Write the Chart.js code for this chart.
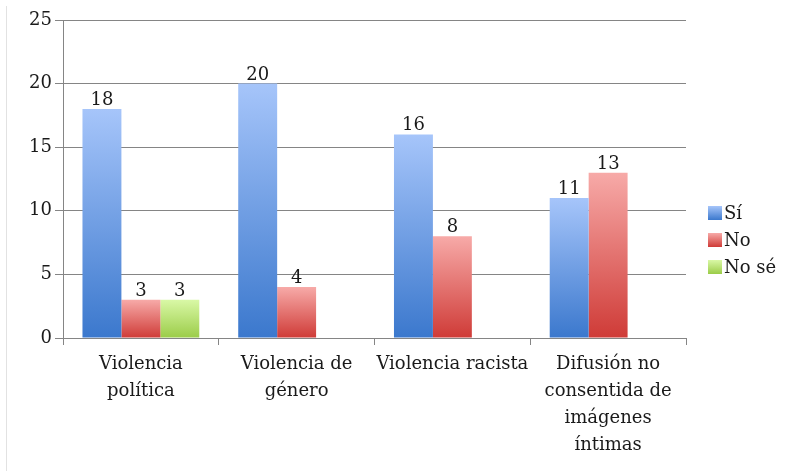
<!DOCTYPE html>
<html>
<head>
<meta charset="utf-8">
<script src="https://cdn.jsdelivr.net/npm/chart.js@4/dist/chart.umd.min.js"></script>
<style>
  html, body { margin: 0; padding: 0; background: #ffffff; }
  #wrap { width: 787px; height: 471px; position: relative; }
</style>
</head>
<body>
<div id="wrap"><canvas id="c" width="787" height="471"></canvas></div>
<script>
// Categories (multi-line axis labels)
const categories = [
  ['Violencia', 'política'],
  ['Violencia de', 'género'],
  ['Violencia racista'],
  ['Difusión no', 'consentida de', 'imágenes', 'íntimas']
];

// Series values
const siValues   = [18, 20, 16, 11];
const noValues   = [3, 4, 8, 13];
const noseValues = [3, null, null, null];

// Y-axis ticks
const yTicks = [0, 5, 10, 15, 20, 25];

const FONT = 'DejaVu Serif';
const TEXT = '#1a1a1a';

// Gradient stops per series: [top, bottom]
const palette = {
  'Sí':    ['#a6c5fa', '#3b78cd'],
  'No':    ['#f7aaa8', '#cf3b37'],
  'No sé': ['#d9f8a6', '#9bcc48']
};

// Each bar gets its own vertical gradient from its top down to the baseline
function barGradient(name) {
  return function (ctx) {
    const chart = ctx.chart;
    const y = chart.scales.y;
    const stops = palette[name];
    if (!y || !chart.chartArea || ctx.raw == null) return stops[1];
    const top = y.getPixelForValue(ctx.raw);
    const bottom = y.getPixelForValue(0);
    if (!isFinite(top) || !isFinite(bottom) || top === bottom) return stops[1];
    const g = chart.ctx.createLinearGradient(0, top, 0, bottom);
    g.addColorStop(0, stops[0]);
    g.addColorStop(1, stops[1]);
    return g;
  };
}

// Value labels drawn above every bar
const valueLabels = {
  id: 'valueLabels',
  afterDatasetsDraw(chart) {
    const c = chart.ctx;
    c.save();
    c.font = '18px "' + FONT + '"';
    c.fillStyle = TEXT;
    c.textAlign = 'center';
    c.textBaseline = 'alphabetic';
    chart.data.datasets.forEach((ds, i) => {
      const meta = chart.getDatasetMeta(i);
      meta.data.forEach((bar, j) => {
        const v = ds.data[j];
        if (v == null) return;
        c.fillText(String(v), bar.x, bar.y - 4);
      });
    });
    c.restore();
  }
};

// Legend at the right with gradient swatches
const sideLegend = {
  id: 'sideLegend',
  afterDraw(chart) {
    const c = chart.ctx;
    const x0 = 708, y0 = 213, step = 27, box = 14;
    c.save();
    c.font = '18px "' + FONT + '"';
    c.textBaseline = 'middle';
    c.textAlign = 'left';
    chart.data.datasets.forEach((ds, i) => {
      const cy = y0 + i * step;
      const stops = palette[ds.label];
      const g = c.createLinearGradient(0, cy - box / 2, 0, cy + box / 2);
      g.addColorStop(0, stops[0]);
      g.addColorStop(1, stops[1]);
      c.fillStyle = g;
      c.fillRect(x0, cy - box / 2, box, box);
      c.fillStyle = TEXT;
      c.fillText(ds.label, x0 + box + 2, cy + 1);
    });
    c.restore();
  }
};

// Thin frame line along the left edge
const leftEdge = {
  id: 'leftEdge',
  beforeDraw(chart) {
    const c = chart.ctx;
    c.save();
    c.strokeStyle = '#e2e2e2';
    c.lineWidth = 1;
    c.beginPath();
    c.moveTo(6.5, 6);
    c.lineTo(6.5, 471);
    c.stroke();
    c.restore();
  }
};

new Chart(document.getElementById('c'), {
  type: 'bar',
  data: {
    labels: categories,
    datasets: [
      { label: 'Sí',    data: siValues,   backgroundColor: barGradient('Sí') },
      { label: 'No',    data: noValues,   backgroundColor: barGradient('No') },
      { label: 'No sé', data: noseValues, backgroundColor: barGradient('No sé') }
    ]
  },
  options: {
    responsive: false,
    animation: false,
    devicePixelRatio: 1,
    layout: { padding: { top: 20, right: 101, left: 0, bottom: 0 } },
    datasets: {
      bar: { categoryPercentage: 0.75, barPercentage: 1.0, borderWidth: 0 }
    },
    plugins: {
      legend: { display: false },
      tooltip: { enabled: false }
    },
    scales: {
      x: {
        grid: {
          offset: true,
          drawOnChartArea: false,
          drawTicks: true,
          tickLength: 7,
          color: '#858585',
          lineWidth: 1
        },
        border: { display: true, color: '#858585', width: 1 },
        ticks: {
          color: TEXT,
          font: { family: FONT, size: 18, lineHeight: 1.5 },
          maxRotation: 0,
          autoSkip: false,
          padding: 6
        },
        afterFit(scale) { scale.height = 133; }
      },
      y: {
        min: 0,
        max: 25,
        afterBuildTicks(scale) { scale.ticks = yTicks.map(v => ({ value: v })); },
        grid: {
          color: '#858585',
          lineWidth: 1,
          drawTicks: true,
          tickLength: 8
        },
        border: { display: true, color: '#858585', width: 1 },
        ticks: {
          color: TEXT,
          font: { family: FONT, size: 18 },
          padding: 3
        },
        afterFit(scale) { scale.width = 63; }
      }
    }
  },
  plugins: [leftEdge, valueLabels, sideLegend]
});
</script>
</body>
</html>
